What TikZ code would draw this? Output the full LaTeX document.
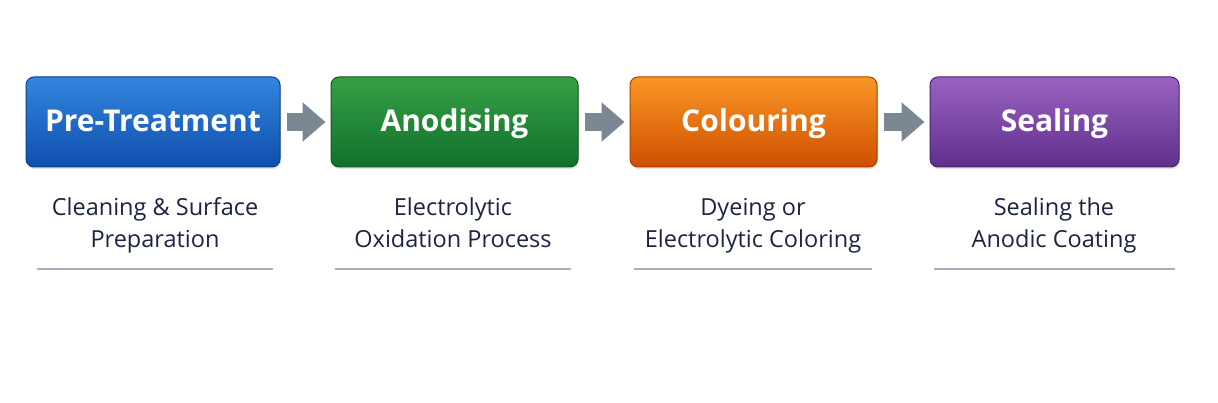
\documentclass[tikz,border=0pt]{standalone}
\usepackage{fontspec}
\setmainfont{Open Sans}
\usetikzlibrary{arrows.meta,shadows}
\definecolor{txtdark}{HTML}{1C2442}
\definecolor{rulec}{HTML}{A7AEBD}
\definecolor{arrowc}{HTML}{7B8792}
\definecolor{blueT}{HTML}{3286DD}
\definecolor{blueB}{HTML}{0F4EAD}
\definecolor{blueD}{HTML}{0B3F8E}
\definecolor{greenT}{HTML}{36A046}
\definecolor{greenB}{HTML}{11702A}
\definecolor{greenD}{HTML}{0D5A20}
\definecolor{orangeT}{HTML}{FA9626}
\definecolor{orangeB}{HTML}{CF5000}
\definecolor{orangeD}{HTML}{A84100}
\definecolor{purpleT}{HTML}{9A62C0}
\definecolor{purpleB}{HTML}{5F2F8C}
\definecolor{purpleD}{HTML}{4B2370}
\newcommand{\dstrut}{\rule[-9.6pt]{0pt}{32pt}}
\tikzset{
  stepbox/.style={rounded corners=8pt, minimum height=90pt, inner sep=0pt,
    text height=22pt, text depth=2pt,
    line width=1pt, text=white, font=\fontsize{30}{36}\selectfont\bfseries,
    drop shadow={opacity=0.22, shadow xshift=1pt, shadow yshift=-2pt}},
  desc/.style={text=txtdark, align=center, font=\fontsize{23.5}{32}\selectfont, inner sep=0pt},
  flowarrow/.style={draw=arrowc, line width=18pt,
    -{Triangle[length=23pt,width=38pt,fill=arrowc]}, shorten <=6pt, shorten >=5pt},
  underline/.style={draw=rulec, line width=1.3pt}
}
\begin{document}
\begin{tikzpicture}[x=1pt,y=-1pt]
\useasboundingbox (0,0) rectangle (1218,403);
\fill[white] (0,0) rectangle (1218,403);
\node[stepbox, minimum width=254pt, draw=blueD, top color=blueT, bottom color=blueB] (b1) at (153,122) {Pre-Treatment};
\node[stepbox, minimum width=247pt, draw=greenD, top color=greenT, bottom color=greenB] (b2) at (454.5,122) {Anodising};
\node[stepbox, minimum width=247pt, draw=orangeD, top color=orangeT, bottom color=orangeB] (b3) at (753.5,122) {Colouring};
\node[stepbox, minimum width=249pt, draw=purpleD, top color=purpleT, bottom color=purpleB] (b4) at (1054.5,122) {Sealing};

\draw[flowarrow] (b1.east) -- (b2.west);
\draw[flowarrow] (b2.east) -- (b3.west);
\draw[flowarrow] (b3.east) -- (b4.west);

\node[desc] (d1) at (155,225) {\dstrut Cleaning \& Surface\\\dstrut Preparation};
\node[desc] (d2) at (453,225) {\dstrut Electrolytic\\\dstrut Oxidation Process};
\node[desc] (d3) at (753,225) {\dstrut Dyeing or\\\dstrut Electrolytic Coloring};
\node[desc] (d4) at (1054,225) {\dstrut Sealing the\\\dstrut Anodic Coating};

\coordinate (u1a) at (37,269); \coordinate (u1b) at (273,269);
\coordinate (u2a) at (335,269); \coordinate (u2b) at (571,269);
\coordinate (u3a) at (634,269); \coordinate (u3b) at (872,269);
\coordinate (u4a) at (934,269); \coordinate (u4b) at (1175,269);
\draw[underline] (u1a) -- (u1b);
\draw[underline] (u2a) -- (u2b);
\draw[underline] (u3a) -- (u3b);
\draw[underline] (u4a) -- (u4b);
\end{tikzpicture}
\end{document}
